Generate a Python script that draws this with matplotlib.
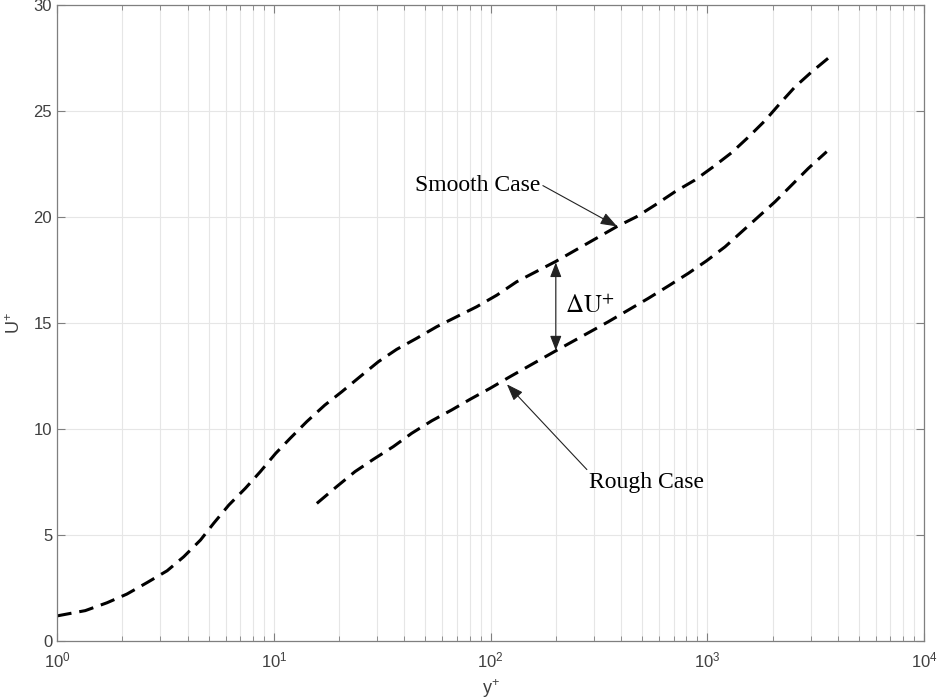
import numpy as np
import matplotlib
matplotlib.use("Agg")
import matplotlib.pyplot as plt
from matplotlib.ticker import LogLocator, FixedLocator, NullFormatter

# Mean velocity profiles in wall units
smooth_yplus = [1.0, 1.35, 1.70, 2.10, 2.60, 3.22, 3.84, 4.59, 5.28, 6.2, 7.39, 8.67,
                10.2, 11.9, 14.2, 17.2, 20.6, 25.0, 30.4, 36.9, 45.6, 56.5, 69.8,
                86.3, 107, 132, 200, 382, 472, 574, 710, 877, 1067, 1294, 1545,
                1845, 2167, 2541, 3034, 3681]
smooth_uplus = [1.17, 1.42, 1.79, 2.20, 2.74, 3.30, 3.96, 4.75, 5.54, 6.40, 7.19, 7.98,
                8.84, 9.55, 10.34, 11.12, 11.75, 12.46, 13.17, 13.75, 14.27, 14.82,
                15.29, 15.76, 16.31, 16.94, 17.90, 19.54, 20.01, 20.56, 21.19, 21.74,
                22.37, 23.03, 23.76, 24.54, 25.36, 26.14, 26.85, 27.56]

rough_yplus = [15.8, 19.5, 23.7, 28.8, 35.6, 43.3, 53.6, 66.2, 80.4, 99.5, 123,
               200, 349, 433, 535, 661, 818, 993, 1208, 1442, 1722, 2056, 2455,
               2924, 3556]
rough_uplus = [6.48, 7.27, 7.98, 8.56, 9.16, 9.79, 10.38, 10.89, 11.39, 11.91, 12.46,
               13.68, 15.05, 15.61, 16.16, 16.74, 17.34, 17.93, 18.59, 19.30, 20.01,
               20.72, 21.51, 22.29, 23.08]

# Velocity shift marked between the two profiles
shift_yplus = 200
shift_top = 17.85
shift_bottom = 13.70

x_limits = (1, 1e4)
y_limits = (0, 30)
y_ticks = [0, 5, 10, 15, 20, 25, 30]

plt.rcParams['mathtext.fontset'] = 'custom'
plt.rcParams['mathtext.rm'] = 'Liberation Sans'
plt.rcParams['mathtext.it'] = 'Liberation Sans:italic'
plt.rcParams['mathtext.bf'] = 'Liberation Sans:bold'
plt.rcParams['font.family'] = ['Liberation Sans', 'DejaVu Sans']

fig = plt.figure(figsize=(9.38, 6.99), dpi=100)
ax = fig.add_axes([0.0608, 0.0834, 0.9243, 0.9094])

dash = dict(color='black', linewidth=2.2, linestyle=(0, (4.8, 2.6)),
            dash_capstyle='butt')
ax.plot(smooth_yplus, smooth_uplus, **dash)
ax.plot(rough_yplus, rough_uplus, **dash)

ax.set_xscale('log')
ax.set_xlim(*x_limits)
ax.set_ylim(*y_limits)
ax.yaxis.set_major_locator(FixedLocator(y_ticks))
ax.xaxis.set_major_locator(LogLocator(base=10, numticks=10))
ax.xaxis.set_minor_locator(LogLocator(base=10, subs=np.arange(2, 10), numticks=20))
ax.xaxis.set_minor_formatter(NullFormatter())

grid_col = '#e6e6e6'
ax.grid(True, which='major', color=grid_col, linewidth=0.8)
ax.grid(True, which='minor', axis='x', color=grid_col, linewidth=0.8)
ax.set_axisbelow(True)

axis_col = '#7f7f7f'
for s in ax.spines.values():
    s.set_color(axis_col)
    s.set_linewidth(0.9)
ax.tick_params(which='both', direction='in', top=True, right=True,
               color=axis_col, labelcolor='#404040', labelsize=12)
ax.tick_params(which='major', length=6, width=0.8)
ax.tick_params(which='minor', length=3.5, width=0.6)
ax.tick_params(axis='x', pad=7)

ax.set_xlabel(r'y$^{+}$', fontsize=13, color='#404040', labelpad=5)
ax.set_ylabel(r'U$^{+}$', fontsize=13, color='#404040', labelpad=7)

serif = 'Liberation Serif'
arrow_kw = dict(arrowstyle='-|>,head_length=0.6,head_width=0.22',
                color='#222222', linewidth=0.8, shrinkA=0, shrinkB=0)

ax.annotate('Smooth Case', xy=(384, 19.55), xytext=(87, 21.5),
            fontsize=17, family=serif, ha='center', va='center',
            arrowprops=dict(arrow_kw, relpos=(1.0, 0.55)))
ax.annotate('Rough Case', xy=(119, 12.1), xytext=(527, 7.45),
            fontsize=17, family=serif, ha='center', va='center',
            arrowprops=dict(arrow_kw, relpos=(0.0, 1.0)))

ax.annotate('', xy=(shift_yplus, shift_top), xytext=(shift_yplus, shift_bottom),
            arrowprops=dict(arrowstyle='<|-|>,head_length=0.9,head_width=0.35',
                            color='#222222', linewidth=0.8, shrinkA=0, shrinkB=0))
ax.text(221, (shift_top + shift_bottom) / 2, r'$\Delta\mathrm{U}^{+}$',
        fontsize=18, ha='left', va='center', math_fontfamily='stix')

fig.savefig('out.png', dpi=100)
